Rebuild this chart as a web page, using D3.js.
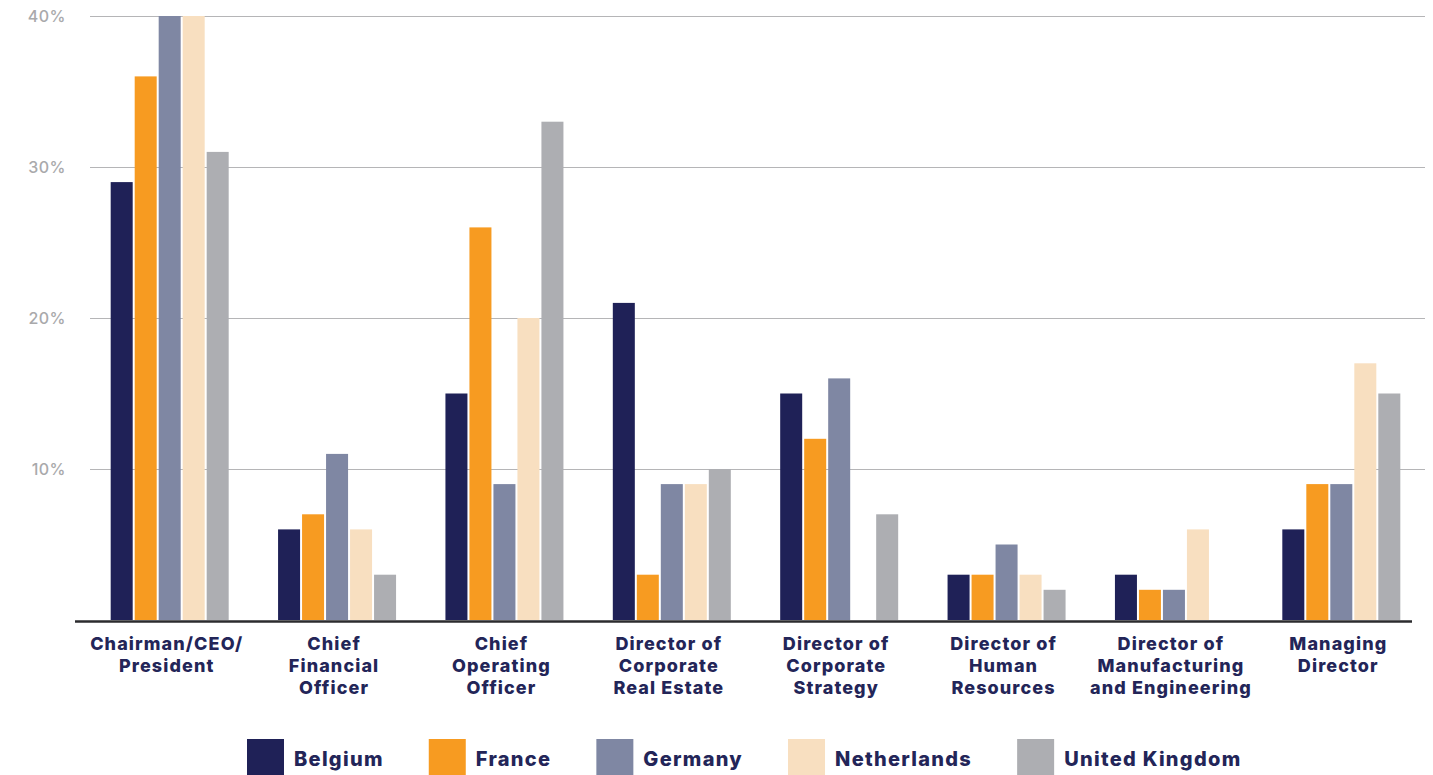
<!DOCTYPE html>
<html>
<head>
<meta charset="utf-8">
<script src="https://cdn.jsdelivr.net/npm/d3@7"></script>
<style>
  html, body { margin: 0; padding: 0; background: #ffffff; }
  svg { display: block; }
</style>
</head>
<body>
<svg id="chart" width="1433" height="775"></svg>
<script>
// Job roles (one group of bars each); each entry is the list of label lines
const categories = [
  ["Chairman/CEO/", "President"],
  ["Chief", "Financial", "Officer"],
  ["Chief", "Operating", "Officer"],
  ["Director of", "Corporate", "Real Estate"],
  ["Director of", "Corporate", "Strategy"],
  ["Director of", "Human", "Resources"],
  ["Director of", "Manufacturing", "and Engineering"],
  ["Managing", "Director"]
];

const countries = ["Belgium", "France", "Germany", "Netherlands", "United Kingdom"];
const colors = ["#1f2157", "#f79b21", "#7f87a3", "#f8dfc0", "#adaeb2"];

// Share of respondents (%) per role, one array per country
const belgium     = [29, 6, 15, 21, 15, 3, 3, 6];
const france      = [36, 7, 26, 3, 12, 3, 2, 9];
const germany     = [40, 11, 9, 9, 16, 5, 2, 9];
const netherlands = [40, 6, 20, 9, 0, 3, 6, 17];
const unitedKingdom = [31, 3, 33, 10, 7, 2, 0, 15];

const yTicks = [10, 20, 30, 40];

const series = [belgium, france, germany, netherlands, unitedKingdom];

const svg = d3.select("#chart");
const navy = "#232558";
const fontFamily = "Inter, 'Open Sans', sans-serif";

const y = d3.scaleLinear().domain([0, 40]).range([620, 16]);

const x0 = d3.scaleBand()
  .domain(d3.range(categories.length))
  .range([86, 1425])
  .paddingInner(0.295)
  .paddingOuter(0.1475);

const x1 = d3.scaleBand()
  .domain(d3.range(countries.length))
  .range([0, x0.bandwidth()])
  .paddingInner(0.083);

// Horizontal gridlines with percentage labels
const yAxis = d3.axisLeft(y)
  .tickValues(yTicks)
  .tickFormat(d => d + "%")
  .tickSize(-(1425 - 90))
  .tickPadding(24);

const gy = svg.append("g")
  .attr("transform", "translate(90,0)")
  .call(yAxis);
gy.select(".domain").remove();
gy.selectAll(".tick line")
  .attr("stroke", "#b5b5b7")
  .attr("stroke-width", 1.2);
gy.selectAll(".tick text")
  .attr("fill", "#a9a9ab")
  .attr("font-family", fontFamily)
  .attr("font-size", 16)
  .attr("font-weight", 500)
  .attr("letter-spacing", 0.5)
  .attr("dy", "0.35em");

// Bars
const groups = svg.append("g")
  .selectAll("g")
  .data(categories)
  .join("g")
  .attr("transform", (d, i) => `translate(${x0(i)},0)`);

groups.selectAll("rect")
  .data((d, i) => series.map((s, k) => ({ k, v: s[i] })))
  .join("rect")
  .attr("x", d => x1(d.k))
  .attr("width", x1.bandwidth())
  .attr("y", d => y(d.v))
  .attr("height", d => y(0) - y(d.v))
  .attr("fill", d => colors[d.k]);

// Baseline
svg.append("line")
  .attr("x1", 75)
  .attr("x2", 1412)
  .attr("y1", y(0) + 1.5)
  .attr("y2", y(0) + 1.5)
  .attr("stroke", "#2b2b2e")
  .attr("stroke-width", 2.6);

// Category labels
const labels = svg.append("g")
  .selectAll("text")
  .data(categories)
  .join("text")
  .attr("x", (d, i) => x0(i) + x0.bandwidth() / 2 - 3)
  .attr("y", 650)
  .attr("text-anchor", "middle")
  .attr("fill", navy)
  .attr("font-family", fontFamily)
  .attr("font-size", 18)
  .attr("font-weight", 800)
  .attr("letter-spacing", 1.1);

labels.selectAll("tspan")
  .data(d => d)
  .join("tspan")
  .attr("x", function () { return d3.select(this.parentNode).attr("x"); })
  .attr("dy", (d, i) => i === 0 ? 0 : 22)
  .text(d => d);

// Legend
const legend = svg.append("g");
let lx = 247;
countries.forEach((name, k) => {
  legend.append("rect")
    .attr("x", lx)
    .attr("y", 739)
    .attr("width", 37)
    .attr("height", 37)
    .attr("fill", colors[k]);
  const t = legend.append("text")
    .attr("x", lx + 47)
    .attr("y", 766)
    .attr("fill", navy)
    .attr("font-family", fontFamily)
    .attr("font-size", 20)
    .attr("font-weight", 800)
    .attr("letter-spacing", 1.3)
    .text(name);
  lx += 47 + t.node().getComputedTextLength() + 45;
});
</script>
</body>
</html>
